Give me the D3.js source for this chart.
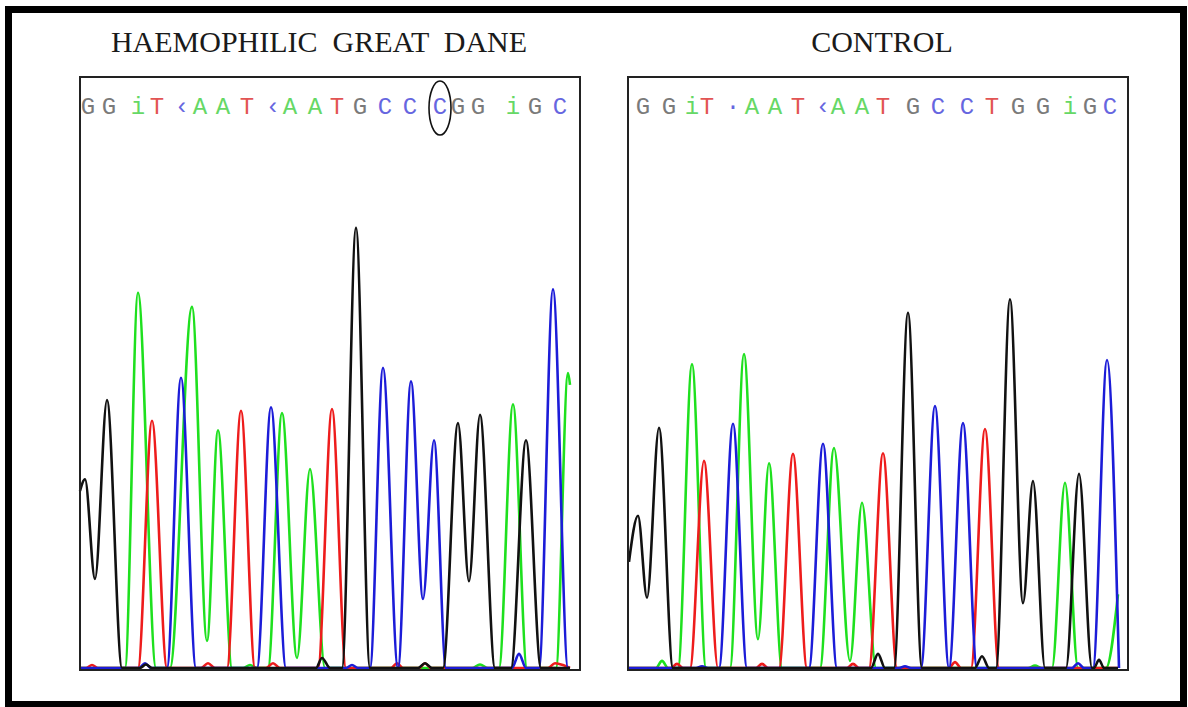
<!DOCTYPE html>
<html>
<head>
<meta charset="utf-8">
<script src="https://d3js.org/d3.v7.min.js"></script>
<style>
  body { margin: 0; background: #fff; }
  svg { display: block; }
  .title { font-family: "Liberation Serif", "Times New Roman", serif; font-size: 30px; fill: #1a1a1a; white-space: pre; }
  .base { font-family: "Liberation Mono", "Courier New", monospace; font-size: 24px; }
  .trace { fill: none; stroke-width: 2.6; stroke-linejoin: round; }
</style>
</head>
<body>
<div id="chart"></div>
<script>
// trace points per dye channel: [scan, signal]
var leftBlack = [[0,300],[5,320],[15,151],[27,454],[42,0],[60,0],[66,6],[72,0],[236,0],[242,17],[250,0],[262,0],[276,746],[290,0],[338,0],[345,8],[352,0],[363,0],[378,415],[389,147],[400,429],[415,0],[431,0],[446,386],[461,0],[490,0]];
var leftGreen = [[0,0],[45,0],[58,636],[76,0],[90,0],[112,612],[127,46],[138,403],[152,0],[163,0],[170,5],[177,0],[188,0],[202,432],[217,17],[230,337],[245,0],[392,0],[400,6],[408,0],[419,0],[433,447],[447,0],[476,0],[488,500],[490,480]];
var leftRed = [[0,0],[6,0],[12,5],[18,0],[58,0],[72,419],[87,0],[121,0],[128,8],[135,0],[147,0],[161,436],[175,0],[186,0],[193,8],[200,0],[238,0],[252,439],[266,0],[311,0],[317,8],[323,0],[339,0],[345,8],[351,0],[468,0],[475,8],[483,5],[490,0]];
var leftBlue = [[0,0],[59,0],[65,8],[71,0],[87,0],[101,492],[116,0],[177,0],[191,442],[206,0],[266,0],[272,5],[278,0],[290,0],[303,509],[318,0],[331,486],[343,117],[354,386],[366,0],[432,0],[439,24],[446,0],[459,0],[473,642],[488,0],[490,0]];

var rightBlack = [[1,180],[10,258],[19,119],[31,407],[45,0],[243,0],[250,24],[257,0],[266,0],[280,602],[294,0],[347,0],[354,20],[361,0],[368,0],[382,625],[395,110],[405,317],[417,0],[438,0],[451,329],[464,0],[466,0],[471,14],[476,0],[490,0]];
var rightGreen = [[0,0],[28,0],[34,12],[40,0],[50,0],[64,515],[78,0],[102,0],[116,532],[130,49],[141,347],[154,0],[192,0],[206,373],[222,12],[234,280],[248,0],[400,0],[407,4],[414,0],[424,0],[437,314],[450,0],[478,0],[490,125]];
var rightRed = [[0,0],[43,0],[49,7],[55,0],[62,0],[76,351],[90,0],[128,0],[134,7],[140,0],[151,0],[165,363],[179,0],[219,0],[225,7],[231,0],[241,0],[255,364],[269,0],[321,0],[327,10],[333,0],[343,0],[357,405],[371,0],[490,0]];
var rightBlue = [[0,0],[68,0],[74,3],[80,0],[91,0],[105,414],[119,0],[181,0],[195,380],[209,0],[271,0],[277,3],[283,0],[293,0],[307,444],[321,0],[335,415],[349,0],[444,0],[450,8],[456,0],[465,0],[479,522],[491,0]];

// base calls printed above the traces
var leftBases   = ["G","G","i","T","‹","A","A","T","‹","A","A","T","G","C","C","C","G","G","i","G","C"];
var leftBaseCol = ["G","G","A","T","C","A","A","T","C","A","A","T","G","C","C","C","G","G","A","G","C"];
var leftBasePos = [8,29,58,77,102,120,143,167,193,210,235,257,280,305,330,360,378,398,433,455,480];
var rightBases   = ["G","G","i","T","·","A","A","T","‹","A","A","T","G","C","C","T","G","G","i","G","C"];
var rightBaseCol = ["G","G","A","T","C","A","A","T","C","A","A","T","G","C","C","T","G","G","A","G","C"];
var rightBasePos = [15,41,64,79,105,124,147,170,195,210,234,255,285,310,339,364,390,415,442,462,482];

var titles = ["HAEMOPHILIC  GREAT  DANE", "CONTROL"];
var titlePos = [239, 254]; // centre of each title, in scan units
var mutantIndex = 15; // the circled C

// colours
var traceColor = { black: "#111111", green: "#1ee01e", red: "#ee1c1c", blue: "#1c1cd8" };
var baseColor = { G: "#7a7a7a", A: "#66d866", T: "#e25454", C: "#6666e0" };

var w = 1188, h = 707;
var svg = d3.select("#chart").append("svg")
    .attr("width", w)
    .attr("height", h);

// outer frame
svg.append("rect")
    .attr("x", 8.5).attr("y", 9.5)
    .attr("width", 1175).attr("height", 695)
    .attr("fill", "none")
    .attr("stroke", "#000")
    .attr("stroke-width", 7);

var panelW = 500, panelTop = 77, panelBottom = 670;
var panels = [
    { left: 80,  title: titles[0], titleAt: titlePos[0], traces: { black: leftBlack, green: leftGreen, red: leftRed, blue: leftBlue },
      bases: leftBases, baseCol: leftBaseCol, basePos: leftBasePos, circle: mutantIndex },
    { left: 628, title: titles[1], titleAt: titlePos[1], traces: { black: rightBlack, green: rightGreen, red: rightRed, blue: rightBlue },
      bases: rightBases, baseCol: rightBaseCol, basePos: rightBasePos, circle: -1 }
];

var y = d3.scaleLinear().domain([0, 1000]).range([668, 78]);

panels.forEach(function (p) {
    var x = d3.scaleLinear().domain([0, panelW]).range([p.left, p.left + panelW]);

    // title
    svg.append("text")
        .attr("class", "title")
        .attr("x", x(p.titleAt))
        .attr("y", 52)
        .attr("text-anchor", "middle")
        .text(p.title);

    // traces
    var line = d3.line()
        .x(function (d) { return x(d[0]); })
        .y(function (d) { return y(d[1]); })
        .curve(d3.curveMonotoneX);

    ["green", "red", "blue", "black"].forEach(function (k) {
        svg.append("path")
            .datum(p.traces[k])
            .attr("class", "trace")
            .attr("stroke", traceColor[k])
            .attr("d", line);
    });

    // base calls
    svg.selectAll(null)
        .data(p.bases)
        .enter()
        .append("text")
        .attr("class", "base")
        .attr("x", function (d, i) { return x(p.basePos[i]); })
        .attr("y", 114)
        .attr("text-anchor", "middle")
        .attr("fill", function (d, i) { return baseColor[p.baseCol[i]]; })
        .text(function (d) { return d; });

    if (p.circle >= 0) {
        svg.append("ellipse")
            .attr("cx", x(p.basePos[p.circle]))
            .attr("cy", 108)
            .attr("rx", 11)
            .attr("ry", 27)
            .attr("fill", "none")
            .attr("stroke", "#111")
            .attr("stroke-width", 1.6);
    }

    // panel box
    svg.append("rect")
        .attr("x", x(0)).attr("y", panelTop)
        .attr("width", panelW).attr("height", panelBottom - panelTop)
        .attr("fill", "none")
        .attr("stroke", "#222")
        .attr("stroke-width", 2);
});
</script>
</body>
</html>
